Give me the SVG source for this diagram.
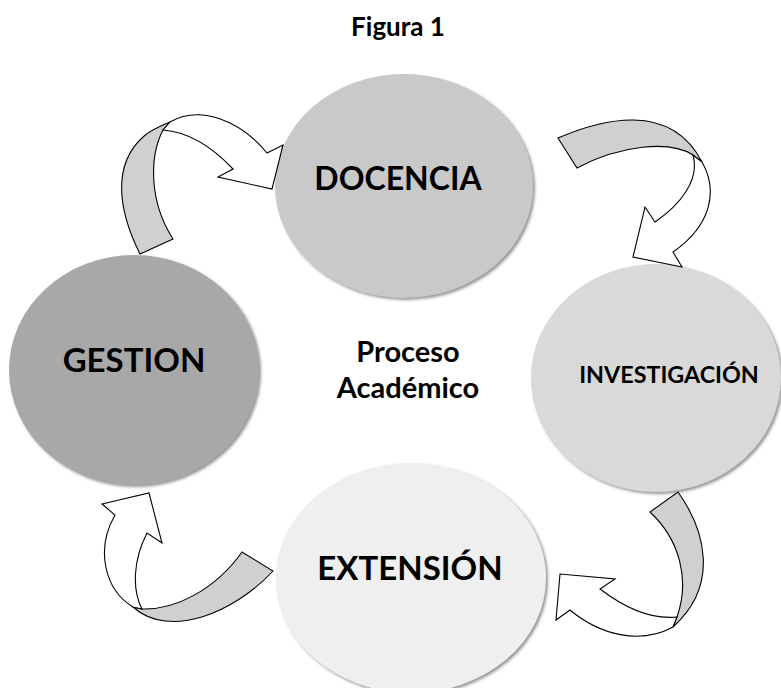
<svg xmlns="http://www.w3.org/2000/svg" width="781" height="688" viewBox="0 0 781 688">
<defs>
<filter id="sh" x="-10%" y="-10%" width="125%" height="125%">
<feDropShadow dx="2" dy="2" stdDeviation="1.5" flood-color="#7a7a7a" flood-opacity="0.8"/>
</filter>
</defs>
<style>
.lbl{font-family:Lato,"Open Sans","Liberation Sans",sans-serif;font-weight:bold;fill:#000;text-anchor:middle}
.rib{fill:#d0d0d0;stroke:#000;stroke-width:1.1;stroke-linejoin:miter}
.head{fill:#fff;stroke:#000;stroke-width:1.1;stroke-linejoin:miter}
</style>
<rect width="781" height="688" fill="#fff"/>
<text class="lbl" x="398" y="36" font-size="26">Figura 1</text>
<g id="docencia">
<ellipse cx="404" cy="186" rx="129" ry="112" fill="#c9c9c9" filter="url(#sh)"/>
<text class="lbl" x="398" y="190" font-size="32">DOCENCIA</text>
</g>
<g id="gestion">
<ellipse cx="134" cy="370" rx="125" ry="115" fill="#a8a8a8" filter="url(#sh)"/>
<text class="lbl" x="134" y="372" font-size="33">GESTION</text>
</g>
<g id="investigacion">
<ellipse cx="656" cy="378" rx="125" ry="114" fill="#d9d9d9" filter="url(#sh)"/>
<text class="lbl" x="669" y="383" font-size="23.3">INVESTIGACIÓN</text>
</g>
<g id="extension">
<ellipse cx="411" cy="578" rx="135" ry="115" fill="#efefef" filter="url(#sh)"/>
<text class="lbl" x="410" y="580" font-size="33">EXTENSIÓN</text>
</g>
<g id="centro">
<text class="lbl" x="408" y="362" font-size="29">Proceso</text>
<text class="lbl" x="408" y="398" font-size="29">Académico</text>
</g>
<g id="connectors">
<path class="rib" d="M140,254 C118,210 112,165 143,137 C150,130 160,126 170,122 L163,130 C150,155 148,200 173,239 Z"/>
<path class="head" d="M170,122 C200,105 240,120 267,153 L283,145 L272,189 L218,177 L233,169 C215,150 190,132 163,130 Z"/>
<path class="rib" d="M558,138 C600,120 670,100 702,162 L693,155 C670,140 620,145 577,168 Z"/>
<path class="head" d="M702,162 C718,190 712,225 673,252 L682,267 L633,257 L645,207 L655,222 C680,205 700,180 693,155 Z"/>
<path class="rib" d="M678,492 C705,530 720,585 673,627 L677,617 C690,580 680,540 650,512 Z"/>
<path class="head" d="M673,627 C640,645 600,635 570,610 L556,620 L560,574 L615,579 L600,589 C625,608 650,620 677,617 Z"/>
<path class="rib" d="M273,571 C235,612 170,640 133,607 L142,609 C175,610 215,590 242,552 Z"/>
<path class="head" d="M133,607 C105,590 95,550 115,515 L102,504 L149,493 L162,543 L147,533 C133,560 132,590 142,609 Z"/>
</g>
</svg>
